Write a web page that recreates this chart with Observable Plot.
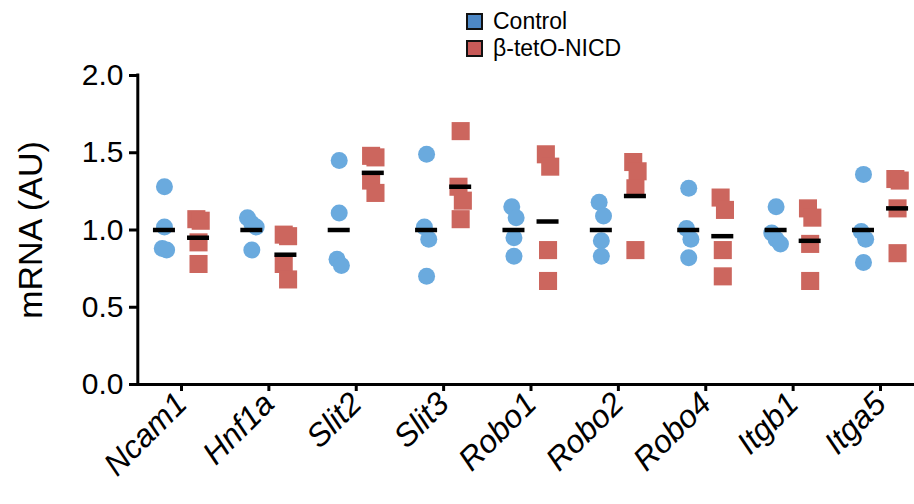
<!DOCTYPE html>
<html><head><meta charset="utf-8">
<script src="https://cdn.jsdelivr.net/npm/d3@7"></script>
<script src="https://cdn.jsdelivr.net/npm/@observablehq/plot@0.6"></script>
<style>
body{margin:0;background:#fff;font-family:"Liberation Sans",Arial,sans-serif;}
#legend{height:45px;position:relative;}
#legend .item{position:absolute;left:466px;display:flex;align-items:center;font-size:23px;color:#000;}
#legend .sw{width:13px;height:13px;border:2px solid #111;margin-right:10px;}
</style></head><body>
<div id="legend"></div>
<div id="chart"></div>
<script>
const genes = ["Ncam1","Hnf1a","Slit2","Slit3","Robo1","Robo2","Robo4","Itgb1","Itga5"];
const groups = ["Control","β-tetO-NICD"];
const control = [
  [1.28, 1.02, 0.88, 0.87],
  [1.08, 1.04, 1.02, 0.87],
  [1.45, 1.11, 0.81, 0.77],
  [1.49, 1.02, 0.94, 0.70],
  [1.15, 1.08, 0.95, 0.83],
  [1.18, 1.09, 0.93, 0.83],
  [1.27, 1.01, 0.94, 0.82],
  [1.15, 0.98, 0.94, 0.91],
  [1.36, 0.99, 0.94, 0.79]
];
const nicd = [
  [1.07, 1.06, 0.92, 0.78],
  [0.97, 0.96, 0.78, 0.68],
  [1.48, 1.47, 1.32, 1.24],
  [1.64, 1.28, 1.19, 1.07],
  [1.49, 1.41, 0.87, 0.67],
  [1.44, 1.38, 1.27, 0.87],
  [1.21, 1.13, 0.87, 0.70],
  [1.14, 1.08, 0.91, 0.67],
  [1.33, 1.32, 1.14, 0.85]
];
const controlMean = [1.0, 1.0, 1.0, 1.0, 1.0, 1.0, 1.0, 1.0, 1.0];
const nicdMean = [0.95, 0.84, 1.37, 1.28, 1.055, 1.22, 0.96, 0.93, 1.14];
const yTicks = [0, 0.5, 1.0, 1.5, 2.0];
const colors = {"Control": "#6aaade", "β-tetO-NICD": "#cc665e"};
const legendColors = {"Control": "#4d88c6", "β-tetO-NICD": "#c85a58"};

// legend
const leg = document.getElementById("legend");
groups.forEach((g, i) => {
  const it = document.createElement("div");
  it.className = "item";
  it.style.top = (8 + i * 27) + "px";
  const sw = document.createElement("div");
  sw.className = "sw";
  sw.style.background = legendColors[g];
  it.appendChild(sw);
  it.appendChild(document.createTextNode(g));
  leg.appendChild(it);
});

// group offset (in band units) and small collision jitter
const groupOffset = {"Control": -0.195, "β-tetO-NICD": 0.195};
function spread(vals) {
  const idx = vals.map((v, i) => i).sort((a, b) => vals[b] - vals[a]);
  const off = new Array(vals.length).fill(0);
  let cluster = [idx[0]];
  const flush = () => {
    const k = cluster.length;
    cluster.forEach((ci, j) => { off[ci] = (j - (k - 1) / 2) * 0.05; });
  };
  for (let n = 1; n < idx.length; n++) {
    if (Math.abs(vals[idx[n]] - vals[idx[n - 1]]) < 0.1) cluster.push(idx[n]);
    else { flush(); cluster = [idx[n]]; }
  }
  flush();
  return off;
}
const points = [];
genes.forEach((g, i) => {
  [[groups[0], control[i]], [groups[1], nicd[i]]].forEach(([grp, vals]) => {
    const off = spread(vals);
    vals.forEach((v, j) => points.push({gene: g, group: grp, value: v, x: i + groupOffset[grp] + off[j]}));
  });
});
const means = [];
genes.forEach((g, i) => {
  means.push({gene: g, group: groups[0], value: controlMean[i], x: i + groupOffset[groups[0]]});
  means.push({gene: g, group: groups[1], value: nicdMean[i], x: i + groupOffset[groups[1]]});
});

const chart = Plot.plot({
  width: 914,
  height: 459,
  marginLeft: 137,
  marginRight: 0,
  marginTop: 30,
  marginBottom: 120,
  style: {fontFamily: "Liberation Sans, Arial, sans-serif", background: "#fff", color: "#000"},
  x: {domain: [-0.5, genes.length - 0.5], range: [137.3, 923.7]},
  y: {domain: [0, 2]},
  marks: [
    Plot.dot(points.filter(d => d.group === groups[0]), {x: "x", y: "value", r: 8.5, fill: colors["Control"], symbol: "circle"}),
    Plot.dot(points.filter(d => d.group === groups[1]), {x: "x", y: "value", r: 10.2, fill: colors["β-tetO-NICD"], symbol: "square"}),
    Plot.ruleY(means, {y: "value", x1: d => d.x - 0.126, x2: d => d.x + 0.126, stroke: "#000", strokeWidth: 4.5}),
    Plot.ruleY([0], {stroke: "#000", strokeWidth: 3}),
    Plot.ruleX([-0.5], {y1: 0, y2: 2, stroke: "#000", strokeWidth: 3, strokeLinecap: "square"}),
    Plot.axisY({ticks: yTicks, tickFormat: d3.format(".1f"), tickSize: 8, tickPadding: 6, fontSize: 30, strokeWidth: 3, label: null}),
    Plot.axisX({ticks: d3.range(genes.length), tickFormat: i => genes[i], tickSize: 7, tickPadding: 7, tickRotate: -45, fontSize: 32, fontStyle: "italic", strokeWidth: 3, label: null}),
    Plot.text(["mRNA (AU)"], {frameAnchor: "left", rotate: -90, dx: -106, fontSize: 34, textAnchor: "middle", text: d => d})
  ]
});
document.getElementById("chart").appendChild(chart);
</script>
</body></html>
